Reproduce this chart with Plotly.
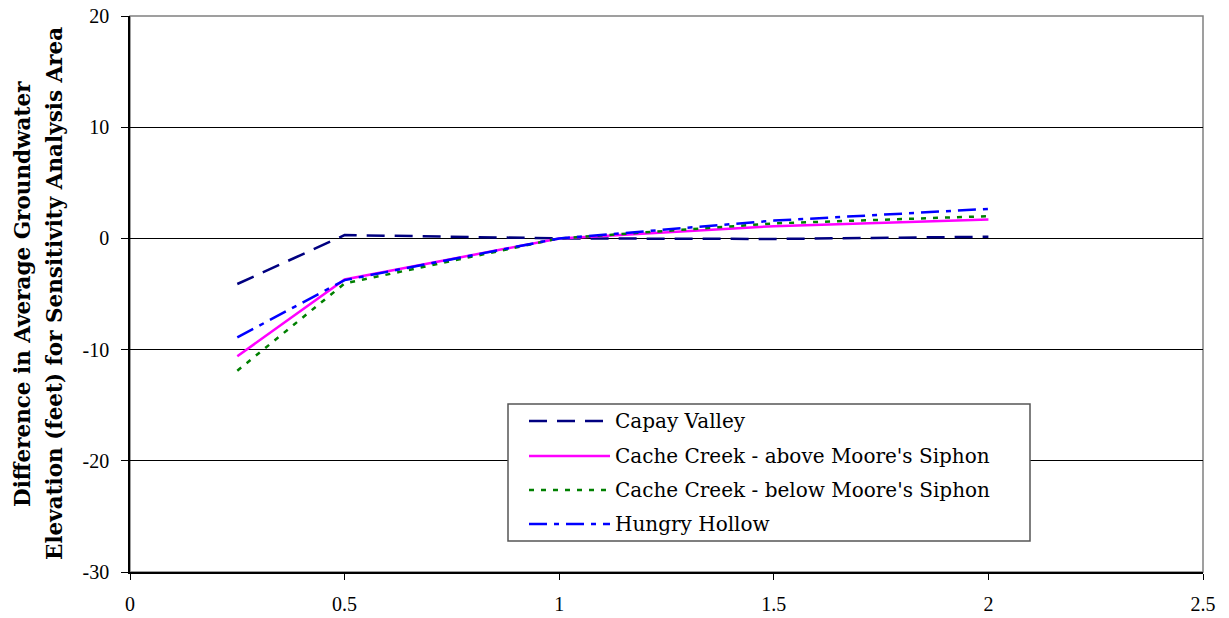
import plotly.graph_objects as go

# Sensitivity multiplier (x) and head difference (feet) for each area
multiplier = [0.25, 0.5, 1, 1.5, 2]
capay_valley = [-4.1, 0.3, 0.0, -0.05, 0.15]
cache_above = [-10.6, -3.7, 0.0, 1.1, 1.7]
cache_below = [-11.9, -4.05, 0.0, 1.35, 2.0]
hungry_hollow = [-8.9, -3.75, 0.0, 1.6, 2.65]

y_ticks = [-30, -20, -10, 0, 10, 20]
y_labels = ["-30", "-20", "-10", "0", "10", "20"]
x_ticks = [0, 0.5, 1, 1.5, 2, 2.5]
x_labels = ["0", "0.5", "1", "1.5", "2", "2.5"]

series = [
    ("Capay Valley", capay_valley, "#000080", "18px,10px", 2.5),
    ("Cache Creek - above Moore's Siphon", cache_above, "#FF00FF", "solid", 2.5),
    ("Cache Creek - below Moore's Siphon", cache_below, "#008000", "5px,7px", 2.5),
    ("Hungry Hollow", hungry_hollow, "#0000FF", "18px,7px,5px,7px", 2.5),
]

W, H = 1229, 618
PLOT_L, PLOT_R, PLOT_T, PLOT_B = 130, 1203, 16, 572   # pixels of the plot area
L, T, R, B = PLOT_L, PLOT_T, W - PLOT_R, H - PLOT_B


def px(x):
    return (x - PLOT_L) / (PLOT_R - PLOT_L)


def py(y):
    return (PLOT_B - y) / (PLOT_B - PLOT_T)


TICK_FONT = "Times New Roman, Liberation Serif, Times, serif"
LEG_FONT = "DejaVu Serif, serif"

fig = go.Figure()
for name, vals, color, dash, w in series:
    fig.add_trace(go.Scatter(
        x=multiplier, y=vals, name=name, mode="lines",
        line=dict(color=color, dash=dash, width=w),
        showlegend=False,
    ))

# grey frame round the plot area
fig.add_shape(type="rect", xref="paper", yref="paper", x0=0, y0=0, x1=1, y1=1,
              line=dict(color="#808080", width=1.5), layer="below")

# legend box drawn by hand so the samples are long like the original
fig.add_shape(type="rect", xref="paper", yref="paper",
              x0=px(508), x1=px(1030), y0=py(541), y1=py(404),
              line=dict(color="#555555", width=1.5), fillcolor="white", layer="above")
rows = [421, 456, 490, 524]
for (name, vals, color, dash, w), ry in zip(series, rows):
    fig.add_shape(type="line", xref="paper", yref="paper",
                  x0=px(529), x1=px(610), y0=py(ry), y1=py(ry),
                  line=dict(color=color, dash=dash, width=w), layer="above")
    fig.add_annotation(text=name, xref="paper", yref="paper", x=px(613), y=py(ry),
                       xanchor="left", yanchor="middle", showarrow=False,
                       font=dict(family=LEG_FONT, size=20, color="black"))

# two-line y title as separate rotated annotations
title_font = dict(family=LEG_FONT, size=21.5, color="black", weight="bold")
fig.add_annotation(text="Difference in Average Groundwater", xref="paper", yref="paper",
                   x=px(22), y=0.5, textangle=-90, showarrow=False,
                   xanchor="center", yanchor="middle", font=title_font)
fig.add_annotation(text="Elevation (feet) for Sensitivity Analysis Area", xref="paper", yref="paper",
                   x=px(54), y=0.5, textangle=-90, showarrow=False,
                   xanchor="center", yanchor="middle", font=title_font)

fig.update_layout(
    width=W, height=H,
    margin=dict(l=L, r=R, t=T, b=B),
    paper_bgcolor="white", plot_bgcolor="white",
    font=dict(family=TICK_FONT, size=20, color="black"),
    showlegend=False,
)

fig.update_xaxes(
    range=[0, 2.5], tickvals=x_ticks, ticktext=x_labels,
    showgrid=False, zeroline=False, automargin=False,
    showline=True, linecolor="black", linewidth=1.5,
    ticks="outside", ticklen=6, tickcolor="black", tickwidth=1,
    ticklabelstandoff=7,
    tickfont=dict(family=TICK_FONT, size=20, color="black"),
)
fig.update_yaxes(
    range=[-30, 20], tickvals=y_ticks, ticktext=y_labels,
    showgrid=True, gridcolor="black", gridwidth=1, zeroline=False, automargin=False,
    showline=True, linecolor="black", linewidth=1.5,
    ticks="outside", ticklen=7, tickcolor="black", tickwidth=1,
    ticklabelstandoff=8,
    tickfont=dict(family=TICK_FONT, size=20, color="black"),
)

# drop the browser's default body margin so the figure fills the window
fig.write_html("out.html", config={"displayModeBar": False},
               post_script="document.body.style.margin='0';")
